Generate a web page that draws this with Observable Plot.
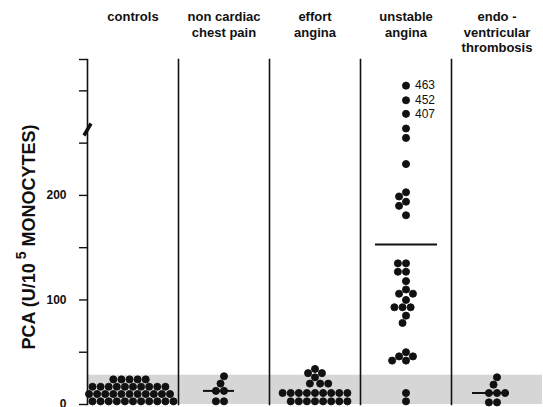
<!DOCTYPE html>
<html><head><meta charset="utf-8">
<script src="https://cdn.jsdelivr.net/npm/d3@7"></script>
<script src="https://cdn.jsdelivr.net/npm/@observablehq/plot@0.6"></script>
<style>body{margin:0;background:#fff}</style>
</head><body><div id="chart"></div>
<script>
const groups = ["controls", "non cardiac chest pain", "effort angina", "unstable angina", "endo-ventricular thrombosis"];
const headers = ["controls", "non cardiac\nchest pain", "effort\nangina", "unstable\nangina", "endo -\nventricular\nthrombosis"];

const controls = [3,3,3,3,3,3,3,3,3,3,3, 10,10,10,10,10,10,10,10,10,10,10, 17,17,17,17,17,17,17,17,17,17, 24,24,24,24,24];
const nonCardiac = [27, 20, 13, 13, 3, 3];
const effort = [34, 30, 30, 26, 20, 20, 20, 11,11,11,11,11,11,11,11,11, 3,3,3,3,3,3,3,3];
const unstable = [264, 255, 230, 203, 199, 194, 190, 181,
  135, 135, 127, 127, 118, 110, 106, 106, 100, 93, 93, 93, 85, 78,
  50, 46, 46, 42, 42, 11, 3];
const unstableTopLabels = [463, 452, 407];
const unstableTopPlotted = [305, 291, 278];
const endo = [26, 19, 11, 11, 11, 2, 2];

const medianGroups = ["non cardiac chest pain", "unstable angina", "endo-ventricular thrombosis"];
const medianValues = [13, 153, 11];

const normalRange = 28;
const axisBreak = 263;
const yTicks = [0, 50, 100, 150, 200, 250, 300, 330];
const yTickLabels = [0, 100, 200];

const series = [controls, nonCardiac, effort, unstable.concat(unstableTopPlotted), endo];
const points = series.flatMap((vals, i) => vals.map(v => ({g: groups[i], v})));
const topPts = unstableTopLabels.map((lab, i) => ({g: "unstable angina", v: unstableTopPlotted[i], lab: String(lab)}));
const med = medianGroups.map((g, i) => ({g, v: medianValues[i]}));

const slash = {draw(ctx) { ctx.moveTo(-5, 5); ctx.lineTo(-2, 7); ctx.lineTo(5, -5); ctx.lineTo(2, -7); ctx.closePath(); }};

const chart = Plot.plot({
  width: 543, height: 407,
  marginLeft: 85, marginRight: 0, marginTop: 59, marginBottom: 3,
  style: {fontFamily: "'Liberation Sans', Arial, sans-serif", fontSize: "12px", color: "#111", background: "#fff"},
  fx: {domain: groups, padding: 0, axis: null},
  y: {domain: [0, 330]},
  marks: [
    Plot.rect([0], {y1: 0, y2: normalRange, fill: "#d6d6d6"}),
    Plot.frame({anchor: "left", stroke: "#111", strokeWidth: 1.6}),
    Plot.axisY({ticks: yTicks, tickSize: 8, tickPadding: 13, fontWeight: "bold", fontSize: 12,
      tickFormat: d => yTickLabels.includes(d) ? d : "", label: null, strokeWidth: 1.4}),
    Plot.dot([axisBreak], {y: d => d, fx: () => "controls", frameAnchor: "left", symbol: slash, fill: "#111", stroke: "none"}),
    Plot.tickY(med.filter(d => d.g === medianGroups[0]), {fx: "g", y: "v", insetLeft: 25, insetRight: 35, strokeWidth: 2, stroke: "#111"}),
    Plot.tickY(med.filter(d => d.g === medianGroups[1]), {fx: "g", y: "v", insetLeft: 15, insetRight: 14, strokeWidth: 2, stroke: "#111"}),
    Plot.tickY(med.filter(d => d.g === medianGroups[2]), {fx: "g", y: "v", insetLeft: 21, insetRight: 33, strokeWidth: 2, stroke: "#111"}),
    Plot.dot(points, Plot.dodgeX("middle", {fx: "g", y: "v", r: 3.55, padding: 0, fill: "#111", stroke: "#111", strokeWidth: 0.9})),
    Plot.text(topPts, {fx: "g", y: "v", text: "lab", frameAnchor: "middle", dx: 9, textAnchor: "start", fontSize: 12, fill: "#111"}),
    Plot.text(groups, {fx: d => d, text: (d, i) => headers[i], frameAnchor: "top", lineAnchor: "top", dy: -49,
      fontWeight: "bold", fontSize: 13, lineHeight: 1.19, fill: "#111"})
  ]
});

const svg = d3.select(chart);
const lab = svg.append("text")
  .attr("transform", "translate(29,237) rotate(-90)")
  .attr("text-anchor", "middle")
  .attr("dominant-baseline", "central")
  .attr("fill", "#111")
  .style("font", "bold 18px 'Liberation Sans', Arial, sans-serif");
lab.append("tspan").text("PCA (U/10");
lab.append("tspan").attr("dy", -8).attr("font-size", 14).text(" 5");
lab.append("tspan").attr("dy", 8).text(" MONOCYTES)");

document.getElementById("chart").appendChild(chart);
</script></body></html>
